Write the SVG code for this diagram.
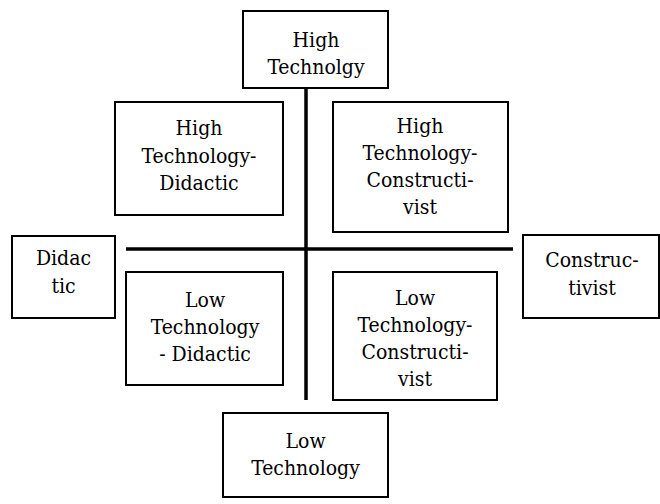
<svg xmlns="http://www.w3.org/2000/svg" width="660" height="504" viewBox="0 0 660 504">
<style>
.box{fill:#fff;stroke:#000;stroke-width:2}
text{font-family:"DejaVu Serif Condensed","DejaVu Serif",serif;font-stretch:condensed;font-size:21px;fill:#000;text-anchor:middle}
.ax{stroke:#000;stroke-width:3.5;fill:none}
</style>
<rect width="660" height="504" fill="#fff"/>
<g id="connectors">
<line class="ax" x1="306" y1="88" x2="306" y2="400"/>
<line class="ax" x1="126" y1="249" x2="513" y2="249"/>
</g>
<g id="high-technology">
<rect class="box" x="243" y="11" width="145" height="77"/>
<text x="316" y="47">High</text>
<text x="316" y="74">Technolgy</text>
</g>
<g id="high-technology-didactic">
<rect class="box" x="115" y="102" width="168" height="113"/>
<text x="199" y="135">High</text>
<text x="199" y="163">Technology-</text>
<text x="199" y="190">Didactic</text>
</g>
<g id="high-technology-constructivist">
<rect class="box" x="333" y="102" width="175" height="130"/>
<text x="420" y="133">High</text>
<text x="420" y="160">Technology-</text>
<text x="420" y="187">Constructi-</text>
<text x="420" y="214">vist</text>
</g>
<g id="didactic">
<rect class="box" x="12" y="236" width="103" height="82"/>
<text x="63.5" y="265">Didac</text>
<text x="63.5" y="293">tic</text>
</g>
<g id="constructivist">
<rect class="box" x="523" y="235" width="136" height="83"/>
<text x="592" y="267">Construc-</text>
<text x="592" y="295">tivist</text>
</g>
<g id="low-technology-didactic">
<rect class="box" x="126" y="272" width="157" height="113"/>
<text x="205" y="307">Low</text>
<text x="205" y="334">Technology</text>
<text x="205" y="361">- Didactic</text>
</g>
<g id="low-technology-constructivist">
<rect class="box" x="333" y="272" width="164" height="128"/>
<text x="415" y="305">Low</text>
<text x="415" y="332">Technology-</text>
<text x="415" y="359">Constructi-</text>
<text x="415" y="386">vist</text>
</g>
<g id="low-technology">
<rect class="box" x="223" y="413" width="165" height="84"/>
<text x="305.5" y="448">Low</text>
<text x="305.5" y="475">Technology</text>
</g>
</svg>
